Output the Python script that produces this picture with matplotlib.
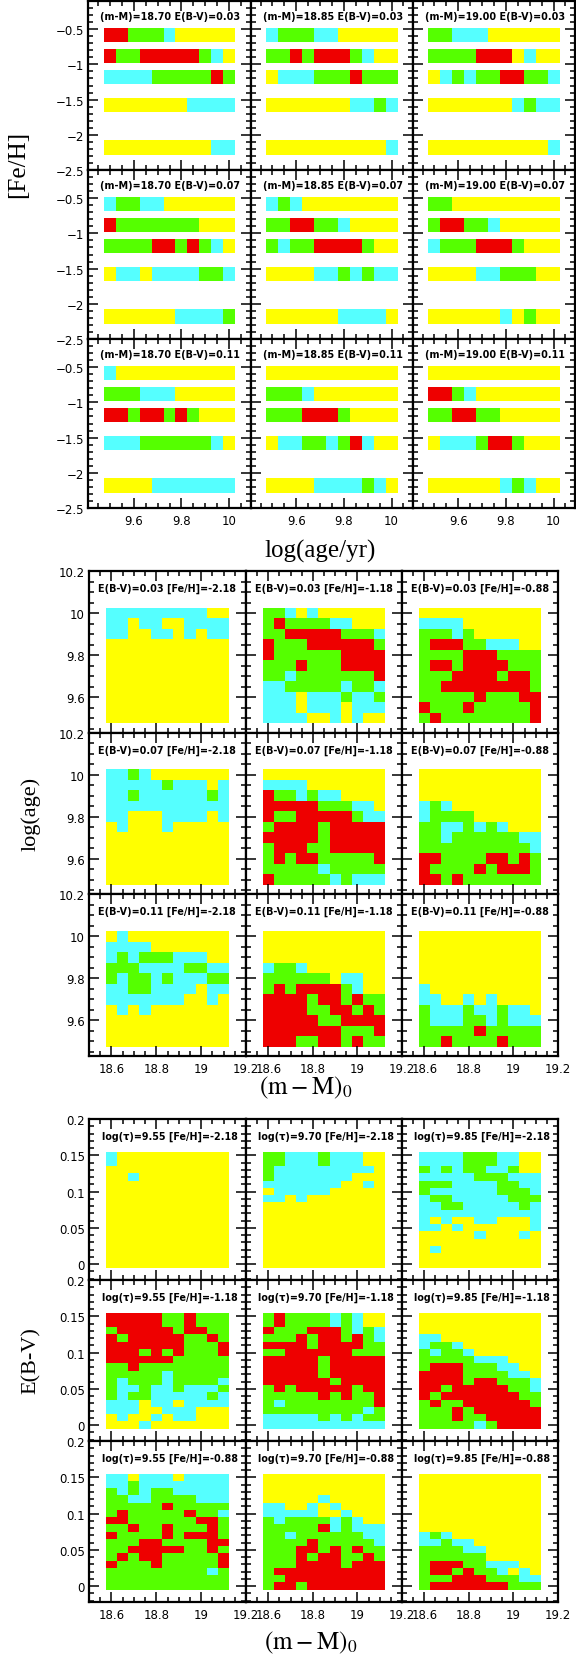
import numpy as np
import matplotlib
matplotlib.use('Agg')
import matplotlib.pyplot as plt
from matplotlib.colors import ListedColormap, BoundaryNorm
from matplotlib.ticker import MultipleLocator, FixedLocator, FuncFormatter

# ---------------- data ----------------
LEVEL_COLORS = ['#FFFF00', '#55FFFF', '#55FF00', '#EE0000']   # Y, C, G, R
CODE = {'Y': 0, 'C': 1, 'G': 2, 'R': 3}

AGE = [9.50, 9.55, 9.60, 9.65, 9.70, 9.75, 9.80, 9.85, 9.90, 9.95, 10.00]
FEH = [-0.58, -0.88, -1.18, -1.58, -2.18]
DM_BAR = ['18.70', '18.85', '19.00']
EBV_BAR = ['0.03', '0.07', '0.11']
DM = [18.60, 18.65, 18.70, 18.75, 18.80, 18.85, 18.90, 18.95, 19.00, 19.05, 19.10]
EBV = [0.00, 0.01, 0.02, 0.03, 0.04, 0.05, 0.06, 0.07, 0.08, 0.09, 0.10,
       0.11, 0.12, 0.13, 0.14, 0.15]
FEH_MAP = ['-2.18', '-1.18', '-0.88']
LOGT_MAP = ['9.55', '9.70', '9.85']

# block 1: rows are FEH, columns are AGE
b1_e03_m1870 = ['RRGGGCYYYYY', 'RGGRRRRRGCY', 'CCCCGGGGGRG', 'YYYYYYYCCCC', 'YYYYYYYYYCC']
b1_e03_m1885 = ['CGGGCCYYYYY', 'GGRGRRRGCYY', 'YCCCGGGRGGG', 'YYYYYYYCCGC', 'YYYYYYYYYYC']
b1_e03_m1900 = ['GGCCCYYYYYY', 'GGGGRRRYCYY', 'YCGCGGRRGGC', 'YYYYYYYCGCC', 'YYYYYYYYYYC']
b1_e07_m1870 = ['CGGCCYYYYYY', 'RGGGGGGGYYY', 'GGGGRRGRGCY', 'YCCYCCCCGGC', 'YYYYYYCCCCG']
b1_e07_m1885 = ['CGCYYYYYYYY', 'GGRRGGCYYYY', 'GCGGRRRRGYY', 'YYYYCCGCGCC', 'YYYYYYCCCCY']
b1_e07_m1900 = ['GGYYYYYYYYY', 'GRRGGCYYYYY', 'CGGGRRRGYYY', 'YYYYCCGGGYY', 'YYYYYYCYGYY']
b1_e11_m1870 = ['CYYYYYYYYYY', 'GGGCCCYYYYY', 'RRGRRGRGYYY', 'CCCGGGGGGCY', 'YYYYCCCCCCC']
b1_e11_m1885 = ['YYYYYYYYYYY', 'GGGCYYYYYYY', 'GGGRRRGYYYY', 'YCCGGCGRCYY', 'YYYYCCCCGCY']
b1_e11_m1900 = ['YYYYYYYYYYY', 'RRGCYYYYYYY', 'GGRRGGYYYYY', 'YCCCGRRGYYY', 'YYYYYYCGCYY']

# block 2: rows are AGE (10.00 at top -> 9.50 at bottom), columns are DM
b2_e03_fe218 = ['CCCCCCCCCYY', 'CCYCCYYCCCC', 'CCYYCCYCYCC', 'YYYYYYYYYYY', 'YYYYYYYYYYY',
                'YYYYYYYYYYY', 'YYYYYYYYYYY', 'YYYYYYYYYYY', 'YYYYYYYYYYY', 'YYYYYYYYYYY',
                'YYYYYYYYYYY']
b2_e03_fe118 = ['GGCYCYYYYYY', 'GRGGGGCCYYY', 'GGRRRRRGGGC', 'RGGGRRRRRRG', 'RGGGGGGRRRR',
                'GGGRGGGRRRR', 'GGCGGGGGGGR', 'CCGGGGGCGGC', 'CCCYCCCGCCG', 'CCCYCCCYCCC',
                'CCCCYYCYCYY']
b2_e03_fe088 = ['YYYYYYYYYYY', 'CCCCYYYYYYY', 'GGGCGYYYYYY', 'GRRRGGCCCYY', 'GGGGRRRGGGG',
                'GRRGRRRRGGG', 'GGGRRRRGRRG', 'GGRRRRRRRRG', 'GGGGGRGGGRR', 'RGGGRGGGGGR',
                'GRGGGGGGGGR']
b2_e07_fe218 = ['CCGCYYYYYYY', 'CCCCCGCCCYC', 'CCGCCCCCCGC', 'CCCCCCCCCCC', 'CCYYYCCCCYC',
                'YCYYYCYYYYY', 'YYYYYYYYYYY', 'YYYYYYYYYYY', 'YYYYYYYYYYY', 'YYYYYYYYYYY',
                'YYYYYYYYYYY']
b2_e07_fe118 = ['YYYYYYYYYYY', 'CCCCYYYYYYY', 'RGGCGCCYYYY', 'RRRRRGGGCCY', 'RGGRRRRRGCC',
                'GRRRRGRRRRR', 'RRRRRGRRRRR', 'GRRRGGRRRRR', 'GRGRRGGGGGR', 'GGGGGCGGGGG',
                'RGGGGGCGCCC']
b2_e07_fe088 = ['YYYYYYYYYYY', 'YYYYYYYYYYY', 'YYYYYYYYYYY', 'CGCYYYYYYYY', 'CGGGGYYYYYY',
                'GGCCGCGCYYY', 'GGCGGGGGGCC', 'GGGGGGGGGGC', 'RRGGGGRRGRG', 'RGGGGRGRRRG',
                'RRGRGGGGGGG']
b2_e11_fe218 = ['YCYYYYYYYYY', 'CCCCYYYYYYY', 'CGCGGGCCCYY', 'GGGCCCCGGCC', 'GCGGCGCCCGG',
                'CCGGCCCCYCC', 'CCCCCCCYYCY', 'YCYCYYYYYYY', 'YYYYYYYYYYY', 'YYYYYYYYYYY',
                'YYYYYYYYYYY']
b2_e11_fe118 = ['YYYYYYYYYYY', 'YYYYYYYYYYY', 'YYYYYYYYYYY', 'CGGCYYYYYYY', 'GGGGGGYCCYY',
                'GRGRRRRGCYY', 'RRRRGRRGRGG', 'RRRRGGRRGRG', 'RRRRRGGRRRR', 'RRRRRRRGGGR',
                'RRRGGRRGRGG']
b2_e11_fe088 = ['YYYYYYYYYYY', 'YYYYYYYYYYY', 'YYYYYYYYYYY', 'YYYYYYYYYYY', 'YYYYYYYYYYY',
                'CYYYYYYYYYY', 'CCYYCYCYYYY', 'GCCCGCCGCCY', 'GCCCGGCGCCC', 'GGGGGRGGGGG',
                'GGRGGGGRGGG']

# block 3: rows are EBV (0.15 at top -> 0.00 at bottom), columns are DM
b3_t955_fe218 = ['CYYYYYYYYYY', 'CYYYYYYYYYY', 'YYYYYYYYYYY', 'YYCYYYYYYYY', 'YYYYYYYYYYY',
                 'YYYYYYYYYYY', 'YYYYYYYYYYY', 'YYYYYYYYYYY', 'YYYYYYYYYYY', 'YYYYYYYYYYY',
                 'YYYYYYYYYYY', 'YYYYYYYYYYY', 'YYYYYYYYYYY', 'YYYYYYYYYYY', 'YYYYYYYYYYY',
                 'YYYYYYYYYYY']
b3_t970_fe218 = ['GGCCCGCCCYY', 'GGCCCGCCCYY', 'GCCCCCCCCCY', 'GCCCCCCCYYY', 'CCCCCCCYYCY',
                 'YCCCCCYYYYY', 'CCYCYYYYYYY', 'YYYYYYYYYYY', 'YYYYYYYYYYY', 'YYYYYYYYYYY',
                 'YYYYYYYYYYY', 'YYYYYYYYYYY', 'YYYYYYYYYYY', 'YYYYYYYYYYY', 'YYYYYYYYYYY',
                 'YYYYYYYYYYY']
b3_t985_fe218 = ['CCCCGGGCCYY', 'CCCCGGGCCYY', 'GCGCGGCCGYY', 'CCCCCGGGCCC', 'GGGCCCCGGCC',
                 'GCCCCCCGGGC', 'CGGCCCCCGGG', 'CCGGCCCCCGC', 'CCCCCCCCCCC', 'CYCYYCCYYYC',
                 'CCYCYYYYYYC', 'YYYYYCYYYCY', 'YYYYYYYYYYY', 'YCYYYYYYYYY', 'YYYYYYYYYYY',
                 'YYYYYYYYYYY']
b3_t955_fe118 = ['RRRRRGGRGGG', 'RRRRRGGRGGG', 'GRRRRRGRRGG', 'RGRRRRRGGRG', 'RRRRRRRGGGR',
                 'RRRGRGRGGGR', 'RRRRRRGGGGG', 'GGRGGGGGGGG', 'GGGGGCGGGGG', 'GCGGGCGGGGC',
                 'GCCGCCGCCCG', 'GCGGCCCCCGC', 'CCCYCCYCCCC', 'CCCYYCCCYYY', 'YCYYCYCCYYY',
                 'YYYCYYYYYYY']
b3_t970_fe118 = ['GRGGGGCGCYY', 'GRGGGGCGCYY', 'RGGGRRRGCGC', 'GGGRGRRGRGC', 'RRRRGRRRRGG',
                 'GGRRRRRRGGG', 'RRRRRGRRRRR', 'RRRRRGRRRRR', 'RRRRRGRRRRR', 'RRRRRRGRRRR',
                 'GRGRRRRRGRR', 'GGGGGRGRGGR', 'GCGGGGGGGGR', 'GGGGGGGGGCG', 'CCCCCGCGCGG',
                 'CCCCCCCCCCC']
b3_t985_fe118 = ['YYYYYYYYYYY', 'YYYYYYYYYYY', 'YYYYYYYYYYY', 'CCYYYYYYYYY', 'CGGCYYYYYYY',
                 'GCGGCYYYYYY', 'GGGGGCCCYYY', 'GRRRGGGCCYY', 'RRRRGGGGCCY', 'RRRRGRRGGGC',
                 'RRGRRRRRGGC', 'RGRRRRRRRGG', 'GRGGRRRRRRG', 'GGGRGRRRRRR', 'GGGRGGRRRRR',
                 'GGGGGCGRRRR']
b3_t955_fe088 = ['CCYCCCYCCCC', 'CCGCCCCCCCC', 'GCGCGGCCCCC', 'GGCCGGGGCCC', 'GGGGGRGGGGG',
                 'GRGGGGGRGGC', 'RRGGGGGGRRG', 'GGRGGRGGGRG', 'RGGGGRGRRRG', 'GGGRRGGGGRR',
                 'GGRRRRRGGRG', 'GRGRRGGGGGR', 'RGGGRGGGGGR', 'GGGGGGGGGCG', 'GGGGGGGGGGG',
                 'GGGGGGGGGGG']
b3_t970_fe088 = ['YYYYYYYYYYY', 'YYYYYYYYYYY', 'YYYYYYYYYYY', 'YYYYYCYYYYY', 'CCYYCYCYYYY',
                 'CCCCCYYCYYY', 'GCGGGGCGCYY', 'GGGGGRCGCCC', 'GGCGGGGGGCC', 'GGGGRGGGGGC',
                 'GGGRRGRGRGG', 'GGGRGRRGGRG', 'GGGRRRRGRRR', 'GRRRRRRRRRR', 'GGRRRRRRRRR',
                 'GRRGRRRRRRR']
b3_t985_fe088 = ['YYYYYYYYYYY', 'YYYYYYYYYYY', 'YYYYYYYYYYY', 'YYYYYYYYYYY', 'YYYYYYYYYYY',
                 'YYYYYYYYYYY', 'YYYYYYYYYYY', 'YYYYYYYYYYY', 'CGCYYYYYYYY', 'CCGCCYYYYYY',
                 'GGGGCCYYYYY', 'GGGGGGYYYYY', 'GRRRGGCCCYY', 'GRRGRGGCYCY', 'GGGRRRGGGCC',
                 'GRRRRRRRGGG']

BLOCK1 = [[b1_e03_m1870, b1_e03_m1885, b1_e03_m1900],
          [b1_e07_m1870, b1_e07_m1885, b1_e07_m1900],
          [b1_e11_m1870, b1_e11_m1885, b1_e11_m1900]]
BLOCK2 = [[b2_e03_fe218, b2_e03_fe118, b2_e03_fe088],
          [b2_e07_fe218, b2_e07_fe118, b2_e07_fe088],
          [b2_e11_fe218, b2_e11_fe118, b2_e11_fe088]]
BLOCK3 = [[b3_t955_fe218, b3_t970_fe218, b3_t985_fe218],
          [b3_t955_fe118, b3_t970_fe118, b3_t985_fe118],
          [b3_t955_fe088, b3_t970_fe088, b3_t985_fe088]]

# ---------------- drawing ----------------
W, H = 576, 1658
fig = plt.figure(figsize=(W / 100, H / 100), dpi=100)
plt.rcParams['mathtext.fontset'] = 'stix'
cmap = ListedColormap(LEVEL_COLORS)
norm = BoundaryNorm([-0.5, 0.5, 1.5, 2.5, 3.5], cmap.N)


def edges(centers):
    c = np.asarray(centers, dtype=float)
    step = c[1] - c[0]
    return np.concatenate([c - step / 2, [c[-1] + step / 2]])


def fmt(v, pos):
    v = round(v, 6) + 0.0
    return ('%g' % v).replace('-', '\u2212')


def add_ax(x0, x1, y0, y1):
    return fig.add_axes([x0 / W, 1 - y1 / H, (x1 - x0) / W, (y1 - y0) / H])


def style(ax, show_left, show_bottom):
    for sp in ax.spines.values():
        sp.set_linewidth(1.6)
    ax.tick_params(which='both', direction='in', top=True, right=True,
                   labelleft=show_left, labelbottom=show_bottom, labelsize=8.5,
                   width=1.1)
    ax.tick_params(which='major', length=7)
    ax.tick_params(which='minor', length=3.5)
    ax.tick_params(axis='x', pad=4.5)
    ax.tick_params(axis='y', pad=3)
    ax.xaxis.set_major_formatter(FuncFormatter(fmt))
    ax.yaxis.set_major_formatter(FuncFormatter(fmt))


ann_font = dict(fontsize=6.9, fontweight='bold', family='DejaVu Sans')

# block 1
b1_x = [88, 251, 413, 575]
b1_y = [2, 171, 340, 509]
age_e = edges(AGE)
for r in range(3):
    for c in range(3):
        ax = add_ax(b1_x[c], b1_x[c + 1], b1_y[r], b1_y[r + 1])
        panel = BLOCK1[r][c]
        for i, fe in enumerate(FEH):
            z = np.array([[CODE[ch] for ch in panel[i]]])
            ax.pcolormesh(age_e, [fe - 0.1, fe + 0.1], z, cmap=cmap, norm=norm,
                          shading='flat', edgecolors='none', antialiased=False)
        ax.set_xlim(9.41, 10.09)
        ax.set_ylim(-2.5, -0.1)
        ax.xaxis.set_major_locator(MultipleLocator(0.2))
        ax.xaxis.set_minor_locator(MultipleLocator(0.05))
        ax.yaxis.set_major_locator(MultipleLocator(0.5))
        ax.yaxis.set_minor_locator(MultipleLocator(0.1))
        style(ax, c == 0, r == 2)
        ax.text(0.072, 0.91, '(m-M)=%s E(B-V)=%s' % (DM_BAR[c], EBV_BAR[r]),
                transform=ax.transAxes, va='center', ha='left', clip_on=False,
                **ann_font)

# block 2
bx = [89, 246, 402, 558]
b2_y = [572, 733.7, 895.3, 1057]
dm_e = edges(DM)
for r in range(3):
    for c in range(3):
        ax = add_ax(bx[c], bx[c + 1], b2_y[r], b2_y[r + 1])
        panel = BLOCK2[r][c]
        z = np.array([[CODE[ch] for ch in row] for row in panel[::-1]])
        ax.pcolormesh(dm_e, age_e, z, cmap=cmap, norm=norm, shading='flat',
                      edgecolors='none', antialiased=False)
        ax.set_xlim(18.5, 19.2)
        ax.set_ylim(9.43, 10.2)
        ax.xaxis.set_major_locator(FixedLocator([18.6, 18.8, 19.0, 19.2]))
        ax.xaxis.set_minor_locator(MultipleLocator(0.05))
        ax.yaxis.set_major_locator(FixedLocator([9.6, 9.8, 10.0, 10.2]))
        ax.yaxis.set_minor_locator(MultipleLocator(0.05))
        style(ax, c == 0, r == 2)
        ax.text(0.055, 0.895, 'E(B-V)=%s [Fe/H]=%s' % (EBV_BAR[r], FEH_MAP[c]),
                transform=ax.transAxes, va='center', ha='left', clip_on=True,
                **ann_font)

# block 3
b3_y = [1120, 1281, 1442, 1603]
ebv_e = edges(EBV)
for r in range(3):
    for c in range(3):
        ax = add_ax(bx[c], bx[c + 1], b3_y[r], b3_y[r + 1])
        panel = BLOCK3[r][c]
        z = np.array([[CODE[ch] for ch in row] for row in panel[::-1]])
        ax.pcolormesh(dm_e, ebv_e, z, cmap=cmap, norm=norm, shading='flat',
                      edgecolors='none', antialiased=False)
        ax.set_xlim(18.5, 19.2)
        ax.set_ylim(-0.022, 0.2)
        ax.xaxis.set_major_locator(FixedLocator([18.6, 18.8, 19.0, 19.2]))
        ax.xaxis.set_minor_locator(MultipleLocator(0.05))
        ax.yaxis.set_major_locator(FixedLocator([0.0, 0.05, 0.1, 0.15, 0.2]))
        ax.yaxis.set_minor_locator(MultipleLocator(0.01))
        style(ax, c == 0, r == 2)
        ax.text(0.08, 0.895, 'log(\u03c4)=%s [Fe/H]=%s' % (LOGT_MAP[c], FEH_MAP[r]),
                transform=ax.transAxes, va='center', ha='left', clip_on=False,
                **ann_font)

# axis titles
serif = dict(family='Liberation Serif', fontsize=18)
fig.text(320 / W, 1 - 551 / H, 'log(age/yr)', ha='center', va='center', **serif)
fig.text(18 / W, 1 - 164 / H, '[Fe/H]', ha='center', va='center', rotation=90, **serif)
fig.text(31 / W, 1 - 814 / H, 'log(age)', ha='center', va='center', rotation=90,
         family='Liberation Serif', fontsize=16)
fig.text(306 / W, 1 - 1088 / H, r'$\mathrm{(m-M)_0}$', ha='center', va='center', fontsize=18)
fig.text(31 / W, 1 - 1361 / H, 'E(B-V)', ha='center', va='center', rotation=90,
         family='Liberation Serif', fontsize=16)
fig.text(311 / W, 1 - 1643 / H, r'$\mathrm{(m-M)_0}$', ha='center', va='center', fontsize=18)

fig.savefig('out.png', dpi=100)
